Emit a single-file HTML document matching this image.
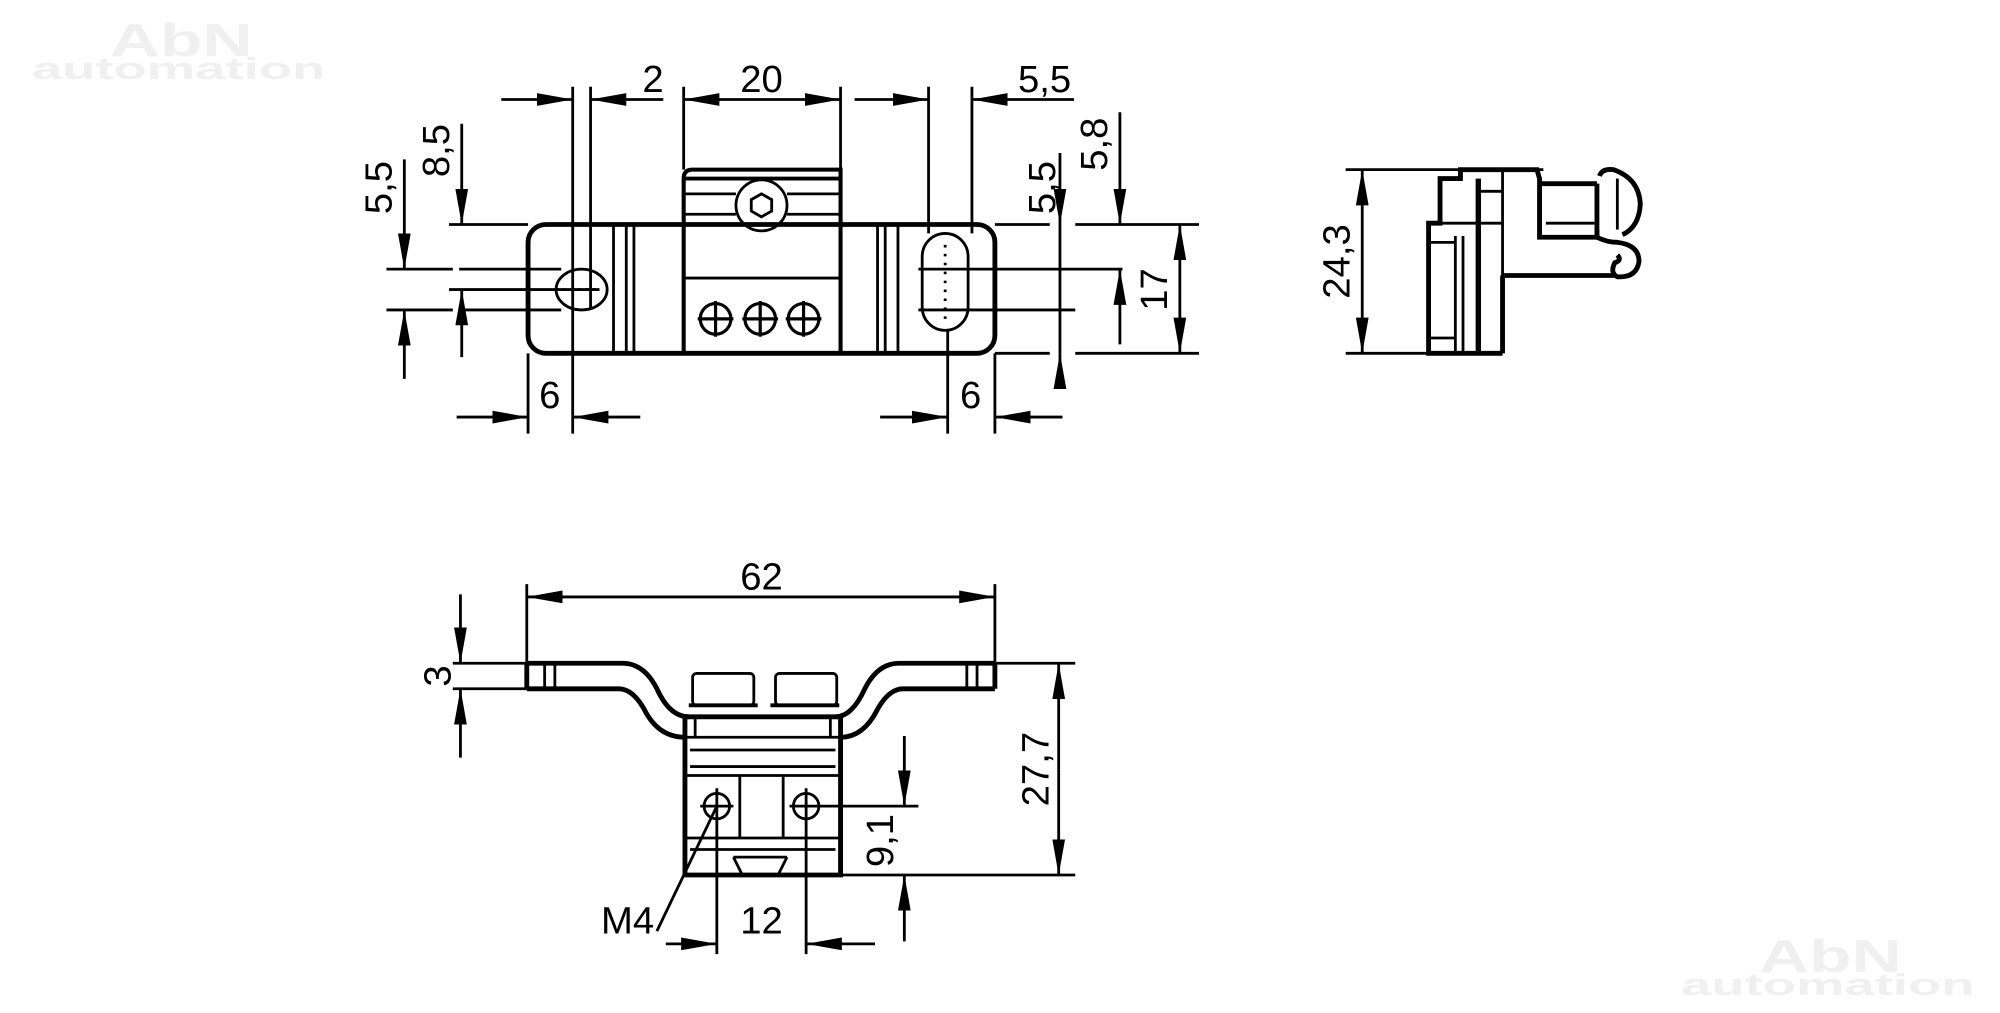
<!DOCTYPE html>
<html><head><meta charset="utf-8"><style>
html,body{margin:0;padding:0;background:#fff;}
svg{display:block;}
text{font-family:"Liberation Sans",sans-serif;font-size:30px;fill:#000;}
</style></head><body>
<svg width="2000" height="1013" viewBox="0 0 1568 794.2" preserveAspectRatio="none" xmlns="http://www.w3.org/2000/svg">
<defs>
<marker id="a" viewBox="0 0 28 10" refX="28" refY="5" markerWidth="28" markerHeight="10" markerUnits="userSpaceOnUse" orient="auto"><path d="M0,0 L28,5 L0,10 Z" fill="#000"/></marker>
</defs>
<rect width="1568" height="795" fill="#fff"/>
<!-- watermarks -->
<text x="142" y="44" text-anchor="middle" textLength="112" lengthAdjust="spacingAndGlyphs" style="font-size:36px;fill:#f0f0f0;font-weight:bold">AbN</text>
<text x="140" y="62" text-anchor="middle" textLength="230" lengthAdjust="spacingAndGlyphs" style="font-size:24px;fill:#f0f0f0;font-weight:bold">automation</text>
<text x="1435" y="762" text-anchor="middle" textLength="112" lengthAdjust="spacingAndGlyphs" style="font-size:36px;fill:#f0f0f0;font-weight:bold">AbN</text>
<text x="1433" y="780" text-anchor="middle" textLength="230" lengthAdjust="spacingAndGlyphs" style="font-size:24px;fill:#f0f0f0;font-weight:bold">automation</text>

<g stroke="#000" fill="none" stroke-width="2.2">
<!-- ===== TOP VIEW ===== -->
<rect x="414" y="176" width="366" height="101" rx="14" stroke-width="3.8"/>
<path d="M536,277 V140 Q536,133 543,133 H659 V277" stroke-width="3.2"/>
<line x1="536" y1="140" x2="659" y2="140" stroke-width="3"/>
<line x1="536" y1="152" x2="577" y2="152"/><line x1="617" y1="152" x2="659" y2="152"/>
<line x1="536" y1="168" x2="577" y2="168"/><line x1="617" y1="168" x2="659" y2="168"/>
<line x1="536" y1="218" x2="659" y2="218"/>
<circle cx="597" cy="161" r="20"/>
<polygon points="597,152 605,156.5 605,165.5 597,170 589,165.5 589,156.5"/>
<g stroke-width="2.5">
<circle cx="561" cy="250" r="12"/><line x1="547" y1="250" x2="575" y2="250"/><line x1="561" y1="236" x2="561" y2="264"/>
<circle cx="596" cy="250" r="12"/><line x1="582" y1="250" x2="610" y2="250"/><line x1="596" y1="236" x2="596" y2="264"/>
<circle cx="630" cy="250" r="12"/><line x1="616" y1="250" x2="644" y2="250"/><line x1="630" y1="236" x2="630" y2="264"/>
</g>
<line x1="491" y1="176" x2="491" y2="277"/><line x1="497" y1="176" x2="497" y2="277"/><line x1="481" y1="176" x2="481" y2="277"/>
<line x1="688" y1="176" x2="688" y2="277"/><line x1="694" y1="176" x2="694" y2="277"/><line x1="704" y1="176" x2="704" y2="277"/>
<ellipse cx="456" cy="227" rx="20" ry="16"/>
<line x1="441" y1="227" x2="470" y2="227" stroke-dasharray="2,4"/>
<rect x="723" y="183" width="36" height="76" rx="18"/>
<line x1="741" y1="192" x2="741" y2="250" stroke-dasharray="2,5"/>
<!-- top dims -->
<line x1="449" y1="68" x2="449" y2="340"/><line x1="463" y1="68" x2="463" y2="242"/>
<line x1="393" y1="78" x2="449" y2="78" marker-end="url(#a)"/>
<line x1="520" y1="78" x2="463" y2="78" marker-end="url(#a)"/>
<line x1="536" y1="68" x2="536" y2="133"/><line x1="659" y1="68" x2="659" y2="133"/>
<line x1="597" y1="78" x2="536" y2="78" marker-end="url(#a)"/>
<line x1="597" y1="78" x2="659" y2="78" marker-end="url(#a)"/>
<line x1="728" y1="68" x2="728" y2="183"/><line x1="762" y1="68" x2="762" y2="183"/>
<line x1="670" y1="78" x2="728" y2="78" marker-end="url(#a)"/>
<line x1="842" y1="78" x2="762" y2="78" marker-end="url(#a)"/>
<!-- left side vertical dims -->
<line x1="352" y1="176" x2="414" y2="176"/>
<line x1="303" y1="211" x2="355" y2="211"/><line x1="360" y1="211" x2="440" y2="211"/>
<line x1="352" y1="227" x2="470" y2="227"/>
<line x1="303" y1="243" x2="355" y2="243"/><line x1="360" y1="243" x2="440" y2="243"/>
<line x1="317" y1="125" x2="317" y2="211" marker-end="url(#a)"/>
<line x1="317" y1="297" x2="317" y2="243" marker-end="url(#a)"/>
<line x1="362" y1="97" x2="362" y2="176" marker-end="url(#a)"/>
<line x1="362" y1="280" x2="362" y2="227" marker-end="url(#a)"/>
<!-- right side dims -->
<line x1="780" y1="176" x2="823" y2="176"/><line x1="843" y1="176" x2="940" y2="176"/>
<line x1="780" y1="277" x2="823" y2="277"/><line x1="843" y1="277" x2="940" y2="277"/>
<line x1="720" y1="211" x2="880" y2="211"/>
<line x1="720" y1="243" x2="843" y2="243"/>
<line x1="831" y1="120" x2="831" y2="176" marker-end="url(#a)"/>
<line x1="831" y1="305" x2="831" y2="277" marker-end="url(#a)"/>
<line x1="831" y1="176" x2="831" y2="277"/>
<line x1="878" y1="88" x2="878" y2="176" marker-end="url(#a)"/>
<line x1="878" y1="270" x2="878" y2="211" marker-end="url(#a)"/>
<line x1="925" y1="227" x2="925" y2="176" marker-end="url(#a)"/>
<line x1="925" y1="227" x2="925" y2="277" marker-end="url(#a)"/>
<!-- bottom 6 dims -->
<line x1="414" y1="277" x2="414" y2="340"/>
<line x1="358" y1="327" x2="414" y2="327" marker-end="url(#a)"/>
<line x1="502" y1="327" x2="449" y2="327" marker-end="url(#a)"/>
<line x1="743" y1="259" x2="743" y2="340"/><line x1="780" y1="277" x2="780" y2="340"/>
<line x1="690" y1="327" x2="743" y2="327" marker-end="url(#a)"/>
<line x1="833" y1="327" x2="780" y2="327" marker-end="url(#a)"/>

<!-- ===== SIDE VIEW ===== -->
<line x1="1055" y1="133" x2="1210" y2="133"/>
<line x1="1055" y1="277" x2="1125" y2="277"/>
<line x1="1068" y1="205" x2="1068" y2="133" marker-end="url(#a)"/>
<line x1="1068" y1="205" x2="1068" y2="277" marker-end="url(#a)"/>
<g stroke-width="3.8">
<path d="M1178,277 H1120 V175 H1129 V140 H1145 V133 H1205 L1207,140 V186 H1252 V180"/>
<path d="M1207,144 H1252"/>
<path d="M1254,138 Q1256,132 1265,133 Q1285,140 1286,160 Q1285,178 1272,184"/>
<path d="M1252,186 Q1260,190 1268,190 Q1285,192 1285,205 Q1283,218 1268,217 Q1262,214 1266,206 Q1272,204 1268,200"/>
<path d="M1178,216 H1266"/>
<path d="M1178,216 V277"/>
<path d="M1252,144 V186"/>
</g>
<line x1="1129" y1="175" x2="1178" y2="175"/>
<line x1="1141" y1="185" x2="1141" y2="277"/><line x1="1147" y1="185" x2="1147" y2="277"/>
<line x1="1158" y1="140" x2="1158" y2="277"/><line x1="1160" y1="140" x2="1160" y2="277"/>
<line x1="1178" y1="133" x2="1178" y2="216"/>
<line x1="1120" y1="190" x2="1141" y2="190"/><line x1="1120" y1="265" x2="1141" y2="265"/>
<line x1="1160" y1="150" x2="1178" y2="150"/>
<line x1="1212" y1="175" x2="1250" y2="175"/>
<line x1="1268" y1="140" x2="1268" y2="180"/>

<!-- ===== BOTTOM VIEW ===== -->
<line x1="413" y1="458" x2="413" y2="540"/><line x1="780" y1="458" x2="780" y2="520"/>
<line x1="597" y1="468" x2="413" y2="468" marker-end="url(#a)"/>
<line x1="597" y1="468" x2="780" y2="468" marker-end="url(#a)"/>
<g stroke-width="3.8">
<path d="M413,520 H488 Q505,520 515,540 Q525,562 540,562 M413,540 H485 Q496,540 505,556 Q516,578 537,578"/>
<path d="M780,520 H705 Q688,520 678,540 Q668,562 655,562 M780,540 H708 Q697,540 688,556 Q677,578 659,578"/>
<line x1="413" y1="520" x2="413" y2="540"/><line x1="780" y1="520" x2="780" y2="540"/>
<path d="M537,562 V686 H659 V562"/>
<line x1="537" y1="562" x2="659" y2="562"/>
</g>
<rect x="543" y="528" width="48" height="25" rx="3"/>
<rect x="608" y="528" width="48" height="25" rx="3"/>
<line x1="540" y1="553" x2="594" y2="553" stroke-width="3"/><line x1="604" y1="553" x2="658" y2="553" stroke-width="3"/>
<line x1="427" y1="520" x2="427" y2="540"/><line x1="435" y1="520" x2="435" y2="540"/>
<line x1="766" y1="520" x2="766" y2="540"/><line x1="758" y1="520" x2="758" y2="540"/>
<line x1="545" y1="562" x2="545" y2="578"/><line x1="651" y1="562" x2="651" y2="578"/>
<line x1="537" y1="578" x2="659" y2="578"/>
<line x1="541" y1="588" x2="655" y2="588"/>
<line x1="541" y1="601" x2="655" y2="601"/>
<line x1="537" y1="608" x2="659" y2="608"/>
<line x1="580" y1="608" x2="580" y2="657"/><line x1="614" y1="608" x2="614" y2="657"/>
<line x1="537" y1="657" x2="659" y2="657"/>
<line x1="541" y1="666" x2="655" y2="666"/>
<path d="M575,672 L582,686 M617,672 L610,686 M575,672 H617"/>
<circle cx="562" cy="632" r="10"/><line x1="549" y1="632" x2="575" y2="632"/>
<circle cx="632" cy="632" r="10"/><line x1="619" y1="632" x2="720" y2="632"/>
<!-- 3 dim -->
<line x1="355" y1="520" x2="413" y2="520"/><line x1="355" y1="540" x2="413" y2="540"/>
<line x1="361" y1="466" x2="361" y2="520" marker-end="url(#a)"/>
<line x1="361" y1="594" x2="361" y2="540" marker-end="url(#a)"/>
<!-- 27,7 -->
<line x1="780" y1="520" x2="843" y2="520"/><line x1="659" y1="686" x2="843" y2="686"/>
<line x1="830" y1="603" x2="830" y2="520" marker-end="url(#a)"/>
<line x1="830" y1="603" x2="830" y2="686" marker-end="url(#a)"/>
<!-- 9,1 -->
<line x1="709" y1="577" x2="709" y2="632" marker-end="url(#a)"/>
<line x1="709" y1="738" x2="709" y2="686" marker-end="url(#a)"/>
<!-- 12 -->
<line x1="562" y1="618" x2="562" y2="748"/><line x1="632" y1="618" x2="632" y2="748"/>
<line x1="522" y1="740" x2="562" y2="740" marker-end="url(#a)"/>
<line x1="686" y1="740" x2="632" y2="740" marker-end="url(#a)"/>
<line x1="562" y1="632" x2="515" y2="730"/>
</g>

<!-- labels -->
<text x="512" y="72" text-anchor="middle">2</text>
<text x="597" y="72" text-anchor="middle">20</text>
<text x="819" y="72" text-anchor="middle">5,5</text>
<text x="431" y="320" text-anchor="middle">6</text>
<text x="761" y="320" text-anchor="middle">6</text>
<text transform="translate(307,147) rotate(-90)" text-anchor="middle">5,5</text>
<text transform="translate(352,118) rotate(-90)" text-anchor="middle">8,5</text>
<text transform="translate(827,147) rotate(-90)" text-anchor="middle">5,5</text>
<text transform="translate(868,113) rotate(-90)" text-anchor="middle">5,8</text>
<text transform="translate(915,227) rotate(-90)" text-anchor="middle">17</text>
<text transform="translate(1058,205) rotate(-90)" text-anchor="middle">24,3</text>
<text x="597" y="462" text-anchor="middle">62</text>
<text transform="translate(353,530) rotate(-90)" text-anchor="middle">3</text>
<text transform="translate(822,603) rotate(-90)" text-anchor="middle">27,7</text>
<text transform="translate(700,659) rotate(-90)" text-anchor="middle">9,1</text>
<text x="597" y="732" text-anchor="middle">12</text>
<text x="492" y="732" text-anchor="middle">M4</text>
</svg>
</body></html>
